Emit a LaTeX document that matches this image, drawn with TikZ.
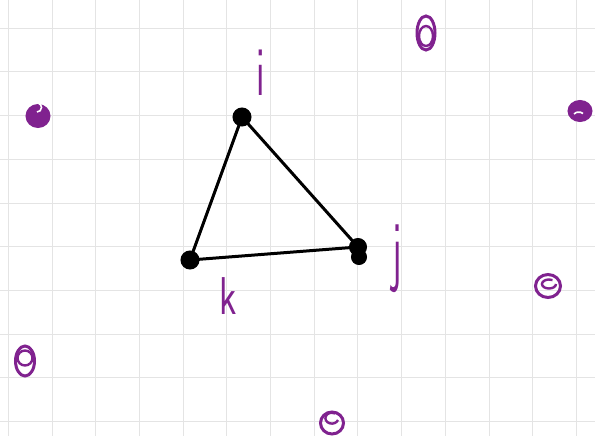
\documentclass[tikz,border=0pt]{standalone}
\usetikzlibrary{shapes.geometric}
\definecolor{hp}{HTML}{80228F}
\definecolor{gridc}{HTML}{E4E4E4}
\begin{document}
\begin{tikzpicture}[x=1pt,y=-1pt,
  gridline/.style={draw=gridc, line width=1pt},
  edge/.style={line width=3pt, black, line cap=round},
  vtx/.style={circle, fill=black, draw=black, line width=1pt, inner sep=0pt, minimum size=18pt},
  blob/.style={ellipse, draw=hp, line width=3pt, inner sep=0pt},
  fblob/.style={ellipse, draw=hp, fill=hp, line width=2pt, inner sep=0pt},
  lab/.style={text=hp, inner sep=0pt, font=\fontsize{38}{38}\selectfont\sffamily, transform shape}
]
\useasboundingbox (0,0) rectangle (595,436);
\fill[white] (0,0) rectangle (595,436);
% grid
\foreach \k in {0,...,13} {
  \draw[gridline] ({8.3+43.7*\k},0) -- ({8.3+43.7*\k},436);
}
\foreach \k in {0,...,9} {
  \draw[gridline] (0,{28.3+43.7*\k}) -- (595,{28.3+43.7*\k});
}
% vertices
\node[vtx] (i) at (242,117) {};
\node[vtx] (k) at (190,260) {};
\node[vtx, minimum size=17pt] (j) at (358,247) {};
\node[vtx, minimum size=15pt] (j2) at (359,257) {};
\draw[edge] (i.center) -- (k.center);
\draw[edge] (i.center) -- (j.center);
\draw[edge] (k.center) -- (j.center);
% labels
\node[lab, yscale=1.85] (li) at (261,73) {i};
\node[lab, yscale=2.1] (lj) at (397,259) {j};
\node[lab, yscale=1.4] (lk) at (228,296) {k};
% purple scribbles
\node[fblob, minimum width=23pt, minimum height=22pt] (b1) at (38,116) {};
\draw[white, line width=1.6pt] (b1.center) ++(-1,-4) arc[start angle=90, end angle=-70, x radius=4.5, y radius=4.5];
\node[blob, minimum width=18pt, minimum height=34pt] (b2) at (426,33) {};
\draw[hp, line width=2.4pt] (b2.center) ++(0,3) ellipse[x radius=7, y radius=10];
\node[fblob, minimum width=23pt, minimum height=20pt] (b3) at (580,111) {};
\draw[white, line width=1.6pt] (b3.center) ++(-6,3) arc[start angle=200, end angle=330, x radius=5, y radius=3];
\node[blob, minimum width=25pt, minimum height=23pt] (b4) at (548,286) {};
\draw[hp, line width=2.4pt] (b4.center) ++(8,-2) arc[start angle=0, end angle=300, x radius=7, y radius=4.5];
\node[blob, minimum width=23pt, minimum height=22pt] (b5) at (332,423) {};
\draw[hp, line width=2.4pt] (b5.center) ++(6,-3) arc[start angle=20, end angle=300, x radius=6.5, y radius=5.5];
\node[blob, minimum width=19pt, minimum height=30pt] (b6) at (25,361) {};
\draw[hp, line width=2.4pt] (b6.center) ++(0,-3) ellipse[x radius=7.5, y radius=7.5];
\end{tikzpicture}
\end{document}
